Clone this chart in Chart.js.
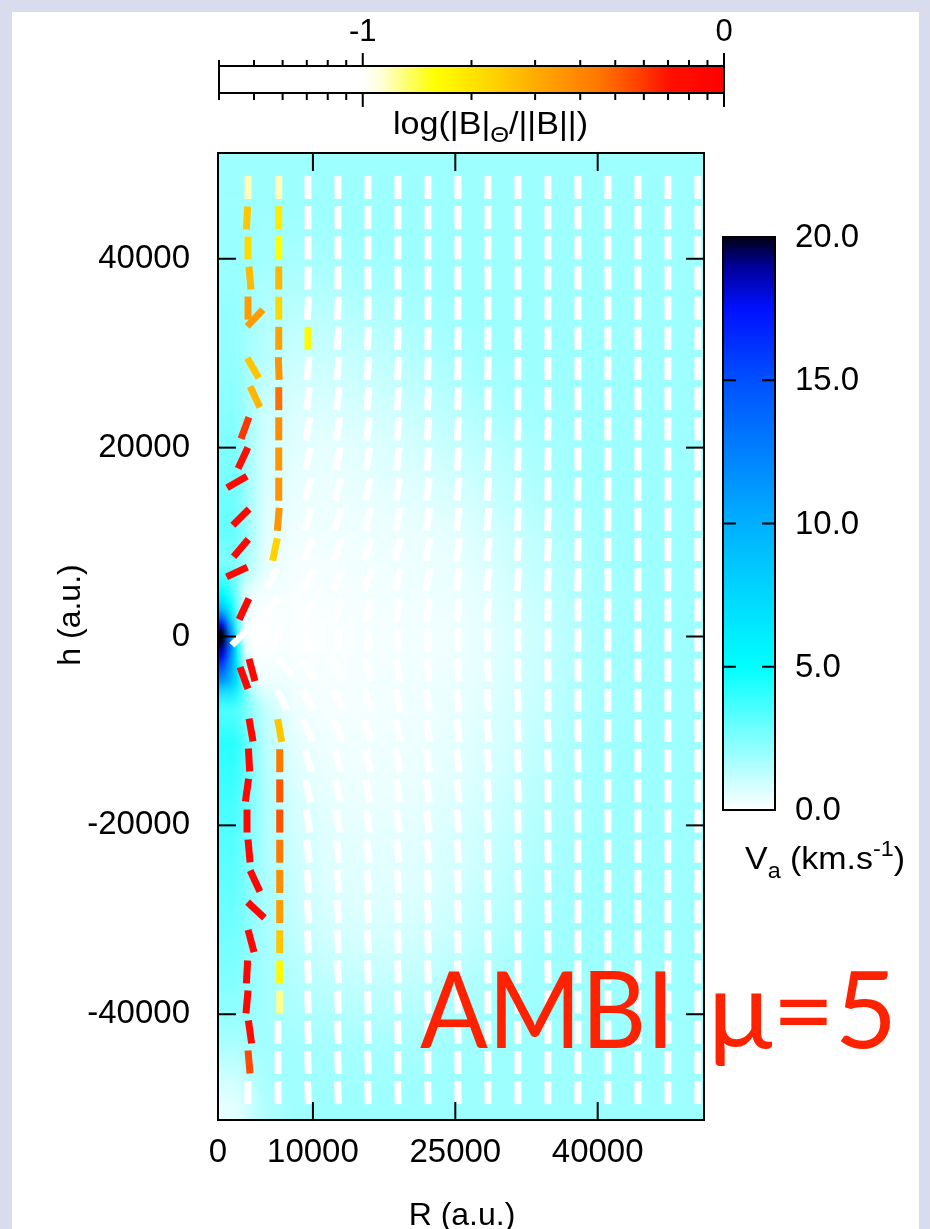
<!DOCTYPE html>
<html>
<head>
<meta charset="utf-8">
<title>AMBI mu=5</title>
<script src="https://cdn.jsdelivr.net/npm/chart.js@4.4.1/dist/chart.umd.min.js"></script>
<style>
  html, body { margin:0; padding:0; width:930px; height:1229px; overflow:hidden; background:#d9dcec; }
  #panel { position:absolute; left:12px; top:12px; width:907px; height:1217px; background:#ffffff; }
  canvas { position:absolute; left:0; top:0; }
</style>
</head>
<body>
<div id="panel"></div>
<canvas id="main" width="930" height="1229"></canvas>
<canvas id="cbTop" width="930" height="1229"></canvas>
<canvas id="cbRight" width="930" height="1229"></canvas>
<script>
// ================= DATA =================
const xTicks = [0, 10000, 25000, 40000];
const yTicks = [-40000, -20000, 0, 20000, 40000];
const xRange = [0, 51200];
const yRange = [-51200, 51200];

// top colour bar: |B|_theta/||B|| on log axis
const ratioRange = [0.04, 1];
const ratioMajor = [0.1, 1];
const ratioMinor = [0.04, 0.05, 0.06, 0.07, 0.08, 0.09, 0.2, 0.3, 0.4, 0.5, 0.6, 0.7, 0.8, 0.9];

// right colour bar: Va (km/s)
const vaRange = [0, 20];
const vaTicks = [0, 5, 10, 15, 20];

// field-line dash grid (centres)
const gridR = [3160, 6320, 9480, 12640, 15800, 18960, 22120, 25280, 28440, 31600, 34760, 37920, 41080, 44240, 47400, 50560];
const gridH = [47550, 44355, 41160, 37965, 34770, 31575, 28380, 25185, 21990, 18795, 15600, 12405, 9210, 6015, 2820, -375,
               -3570, -6765, -9960, -13155, -16350, -19545, -22740, -25935, -29130, -32325, -35520, -38715, -41910, -45105, -48300];
const N = null;
// tilt (deg, + = top leaning right) of the white dashes; null = no white dash there
const whiteTilt = [
 [N,N,0,0,0,0,0,0,0,0,0,0,0,0,0,0],
 [N,N,0,0,0,0,0,0,0,0,0,0,0,0,0,0],
 [N,N,0,0,0,0,0,0,0,0,0,0,0,0,0,0],
 [N,N,1,0,0,0,0,0,0,0,0,0,0,0,0,0],
 [N,N,3,2,1,1,0,0,0,0,0,0,0,0,0,0],
 [N,N,N,4,3,2,1,1,0,0,0,0,0,0,0,0],
 [N,N,5,5,4,3,2,1,1,0,0,0,0,0,0,0],
 [N,N,7,6,5,4,3,2,1,1,0,0,0,0,0,0],
 [N,N,9,8,7,6,4,3,2,1,1,0,0,0,0,0],
 [N,N,12,10,9,7,5,4,3,2,1,0,0,0,0,0],
 [N,N,15,13,11,9,7,5,4,3,1,1,0,0,0,0],
 [N,N,18,17,14,11,9,7,5,3,2,1,0,0,0,0],
 [N,N,22,20,17,14,11,8,6,4,2,1,0,0,0,0],
 [N,N,25,22,18,14,11,8,6,4,2,1,0,0,0,0],
 [N,N,25,18,13,9,7,5,3,2,1,0,0,0,0,0],
 [N,N,5,2,1,0,0,0,0,0,0,0,0,0,0,0],
 [N,N,-32,-22,-15,-10,-7,-5,-3,-2,-1,0,0,0,0,0],
 [N,N,-28,-22,-16,-12,-9,-6,-4,-3,-1,0,0,0,0,0],
 [N,N,-22,-19,-15,-12,-9,-7,-5,-3,-2,-1,0,0,0,0],
 [N,N,-16,-15,-13,-11,-9,-7,-5,-3,-2,-1,0,0,0,0],
 [N,N,-12,-12,-11,-9,-8,-6,-4,-3,-1,-1,0,0,0,0],
 [N,N,-9,-9,-9,-8,-7,-5,-4,-2,-1,-1,0,0,0,0],
 [N,N,-7,-7,-7,-6,-5,-4,-3,-2,-1,0,0,0,0,0],
 [N,N,-5,-5,-5,-5,-4,-3,-2,-2,-1,0,0,0,0,0],
 [N,N,-4,-4,-4,-4,-3,-3,-2,-1,-1,0,0,0,0,0],
 [N,N,-3,-3,-3,-3,-3,-2,-2,-1,-1,0,0,0,0,0],
 [N,N,-3,-3,-3,-2,-2,-2,-1,-1,-1,0,0,0,0,0],
 [N,N,-2,-2,-2,-2,-2,-1,-1,-1,0,0,0,0,0,0],
 [N,0,-2,-2,-2,-2,-1,-1,-1,-1,0,0,0,0,0,0],
 [N,0,-2,-2,-2,-1,-1,-1,-1,0,0,0,0,0,0,0],
 [0,0,-2,-2,-1,-1,-1,-1,0,0,0,0,0,0,0,0]
];
// white dashes off the grid near the origin
const extraWhiteR    = [2320, 5690, 5580, 6200, 7060, 6740];
const extraWhiteH    = [-50, 6200, 3120, -370, -3230, -6720];
const extraWhiteTilt = [45, 30, 40, 20, -45, -25];

// coloured dashes (strong B_theta): centre, tilt, log10(|B|_theta/||B||)
const colR = [3160,3055,3160,3370,3160,3900,3690,3900,2840,2630,2000,2420,2420,2000,2740,3580,2740,3480,3270,3055,3055,3270,3900,4000,3480,3055,3055,3370,3270,
              6400,6400,6400,6400,6400,6400,6400,6400,6400,6400,6400,6350,6000,
              6500,6500,6500,6500,6500,6500,6500,6500,6500,6500,
              9480];
const colH = [47550,44320,41140,37960,34780,33720,28430,25370,22080,18900,16360,12650,9370,6830,2910,-3550,-4390,-9900,-13080,-16260,-19540,-22710,-25890,-28960,-32250,-35520,-38700,-41880,-45060,
              47550,44355,41160,37965,34770,31575,28380,25185,21990,18795,15600,12405,9210,
              -9960,-13155,-16350,-19545,-22740,-25935,-29130,-32325,-35520,-38715,
              31575];
const colTilt = [0,3,0,-5,0,43,-30,-25,20,25,60,45,40,65,25,-15,-20,-10,-3,8,0,-5,-25,-47,-15,3,5,-8,-5,
                 0,0,0,0,0,0,-2,0,0,0,0,5,12,
                 -10,0,0,0,0,0,0,0,0,0,
                 0];
const colLog = [-0.93,-0.6,-0.66,-0.56,-0.47,-0.47,-0.6,-0.55,-0.22,-0.12,-0.08,-0.06,-0.06,-0.06,-0.06,-0.06,-0.06,-0.06,-0.06,-0.06,-0.06,-0.06,-0.06,-0.06,-0.06,-0.06,-0.06,-0.08,-0.25,
                -0.93,-0.72,-0.80,-0.55,-0.65,-0.48,-0.44,-0.33,-0.42,-0.45,-0.45,-0.45,-0.64,
                -0.60,-0.35,-0.28,-0.27,-0.35,-0.42,-0.47,-0.6,-0.78,-0.9,
                -0.78];

// Va map (km/s), coarse grid: cell centres
const heatR = [1600,4800,8000,11200,14400,17600,20800,24000,27200,30400,33600,36800,40000,43200,46400,49600];
const heatH = [49600,46400,43200,40000,36800,33600,30400,27200,24000,20800,17600,14400,11200,8000,4800,1600,
               -1600,-4800,-8000,-11200,-14400,-17600,-20800,-24000,-27200,-30400,-33600,-36800,-40000,-43200,-46400,-49600];
const heatVa = [
 [1.9,1.9,1.9,1.9,1.9,1.9,1.9,1.9,1.9,1.9,1.9,1.9,1.9,1.9,1.9,1.9],
 [1.9,1.9,1.9,1.9,1.9,1.9,1.9,1.9,1.9,1.9,1.9,1.9,1.9,1.9,1.9,1.9],
 [1.95,1.85,1.85,1.85,1.9,1.9,1.9,1.9,1.9,1.9,1.9,1.9,1.9,1.9,1.9,1.9],
 [2.0,1.8,1.7,1.7,1.8,1.85,1.9,1.9,1.9,1.9,1.9,1.9,1.9,1.9,1.9,1.9],
 [2.0,1.6,1.5,1.5,1.6,1.7,1.8,1.9,1.9,1.9,1.9,1.9,1.9,1.9,1.9,1.9],
 [2.1,1.5,1.3,1.3,1.4,1.5,1.7,1.8,1.9,1.9,1.9,1.9,1.9,1.9,1.9,1.9],
 [2.1,1.4,1.1,1.1,1.2,1.3,1.5,1.7,1.8,1.9,1.9,1.9,1.9,1.9,1.9,1.9],
 [2.2,1.2,0.9,0.9,1.0,1.1,1.3,1.5,1.7,1.8,1.9,1.9,1.9,1.9,1.9,1.9],
 [2.3,1.0,0.7,0.7,0.8,0.9,1.1,1.3,1.5,1.7,1.8,1.9,1.9,1.9,1.9,1.9],
 [2.5,0.9,0.6,0.5,0.6,0.7,0.9,1.1,1.3,1.5,1.7,1.8,1.9,1.9,1.9,1.9],
 [2.6,0.8,0.5,0.4,0.5,0.6,0.7,0.9,1.1,1.3,1.6,1.8,1.9,1.9,1.9,1.9],
 [2.8,0.7,0.4,0.35,0.4,0.45,0.55,0.7,0.9,1.2,1.5,1.7,1.85,1.9,1.9,1.9],
 [3.0,0.6,0.3,0.3,0.3,0.35,0.4,0.5,0.7,1.0,1.3,1.6,1.8,1.9,1.9,1.9],
 [2.5,0.5,0.2,0.2,0.25,0.3,0.35,0.4,0.6,0.9,1.2,1.5,1.75,1.9,1.9,1.9],
 [3.0,0.4,0.1,0.15,0.2,0.25,0.3,0.35,0.5,0.8,1.1,1.45,1.7,1.85,1.9,1.9],
 [4.0,0.3,0.05,0.1,0.15,0.2,0.25,0.3,0.45,0.7,1.0,1.4,1.7,1.85,1.9,1.9],
 [4.0,0.4,0.1,0.1,0.15,0.2,0.25,0.3,0.45,0.7,1.0,1.4,1.7,1.85,1.9,1.9],
 [3.5,0.9,0.2,0.15,0.2,0.25,0.3,0.35,0.5,0.75,1.05,1.45,1.7,1.85,1.9,1.9],
 [3.5,1.2,0.35,0.2,0.2,0.25,0.3,0.4,0.55,0.8,1.1,1.5,1.75,1.85,1.9,1.9],
 [4.2,1.4,0.5,0.3,0.25,0.3,0.35,0.45,0.6,0.85,1.2,1.55,1.8,1.9,1.9,1.9],
 [3.9,1.5,0.65,0.4,0.3,0.35,0.4,0.5,0.7,0.95,1.3,1.6,1.8,1.9,1.9,1.9],
 [3.6,1.6,0.8,0.5,0.4,0.4,0.45,0.6,0.8,1.05,1.4,1.65,1.85,1.9,1.9,1.9],
 [3.4,1.6,0.9,0.6,0.5,0.5,0.55,0.7,0.9,1.15,1.5,1.7,1.9,1.9,1.9,1.9],
 [3.2,1.6,1.0,0.65,0.55,0.55,0.6,0.75,0.95,1.25,1.55,1.75,1.9,1.9,1.9,1.9],
 [3.0,1.7,1.1,0.7,0.6,0.6,0.65,0.85,1.1,1.35,1.65,1.8,1.9,1.9,1.9,1.9],
 [2.8,1.7,1.2,0.85,0.75,0.75,0.8,0.95,1.2,1.45,1.7,1.85,1.9,1.9,1.9,1.9],
 [2.6,1.75,1.35,1.05,0.95,0.95,1.0,1.15,1.35,1.6,1.8,1.9,1.9,1.9,1.9,1.9],
 [2.4,1.8,1.5,1.3,1.2,1.2,1.25,1.4,1.55,1.75,1.85,1.9,1.9,1.9,1.9,1.9],
 [2.1,1.8,1.65,1.55,1.45,1.45,1.5,1.6,1.7,1.85,1.9,1.9,1.9,1.9,1.9,1.9],
 [1.6,1.8,1.8,1.75,1.7,1.7,1.7,1.8,1.85,1.9,1.9,1.9,1.9,1.9,1.9,1.9],
 [1.0,1.7,1.85,1.85,1.85,1.85,1.85,1.9,1.9,1.9,1.9,1.9,1.9,1.9,1.9,1.9],
 [0.5,1.5,1.85,1.9,1.9,1.9,1.9,1.9,1.9,1.9,1.9,1.9,1.9,1.9,1.9,1.9]
];
// Va map, fine grid around the origin: cell centres
const coreR = [400,1200,2000,2800,3600,4400,5200,6000,6800,7600];
const coreH = [7600,6800,6000,5200,4400,3600,2800,2000,1200,400,-400,-1200,-2000,-2800,-3600,-4400,-5200,-6000,-6800,-7600];
const coreVa = [
 [3.8,3.2,2.2,1.2,0.8,0.6,0.5,0.4,0.35,0.3],
 [4.0,3.4,2.2,1.1,0.7,0.5,0.4,0.35,0.3,0.25],
 [4.3,3.6,2.2,1.0,0.6,0.4,0.35,0.3,0.25,0.2],
 [4.7,3.9,2.3,0.9,0.5,0.3,0.25,0.2,0.2,0.15],
 [5.5,4.3,2.5,0.8,0.4,0.25,0.2,0.15,0.15,0.1],
 [7.0,5.0,2.7,0.7,0.3,0.2,0.15,0.1,0.1,0.1],
 [10,6.5,3.0,0.6,0.2,0.1,0.1,0.05,0.05,0.05],
 [14,8.5,3.3,0.5,0.1,0.05,0.05,0,0,0.05],
 [18,11,3.6,0.4,0.05,0,0,0,0,0.05],
 [20,13,4.0,0.4,0,0,0,0,0,0.05],
 [20,14,4.5,0.5,0.05,0,0,0,0,0.05],
 [19,14,5.0,0.7,0.1,0.05,0,0,0,0.05],
 [18,13,5.5,1.0,0.2,0.1,0.05,0,0.05,0.05],
 [16,12,6.0,1.5,0.3,0.15,0.1,0.05,0.05,0.1],
 [14,11,6.5,2.0,0.5,0.2,0.15,0.1,0.1,0.1],
 [12,10,6.5,2.5,0.7,0.3,0.2,0.15,0.1,0.1],
 [10,9,6.5,3.0,1.0,0.5,0.3,0.2,0.15,0.15],
 [8.5,8,6.0,3.2,1.3,0.7,0.4,0.25,0.2,0.15],
 [7.0,7,5.5,3.4,1.6,0.9,0.6,0.35,0.25,0.2],
 [6.0,6,5.0,3.4,1.8,1.1,0.8,0.45,0.3,0.25]
];

// ================= STYLE =================
const FONT = "'Liberation Sans', Arial, Helvetica, sans-serif";
const ratioStops = [[-1.4,'#ffffff'],[-1.0,'#ffffff'],[-0.95,'#ffffd8'],[-0.8,'#ffff00'],[-0.65,'#ffd700'],[-0.5,'#ffa500'],[-0.35,'#ff7800'],[-0.25,'#ff4800'],[-0.15,'#ff1000'],[0,'#ff0000']];
const vaStops = [[0,'#ffffff'],[5,'#00ffff'],[10,'#00b0ff'],[15,'#0050ff'],[17.5,'#0010ff'],[19,'#000096'],[20,'#000014']];

function hexToRgb(h){ const n = parseInt(h.slice(1),16); return [(n>>16)&255,(n>>8)&255,n&255]; }
function interpStops(stops, v){
  if (v <= stops[0][0]) return hexToRgb(stops[0][1]);
  for (let i=1;i<stops.length;i++){
    if (v <= stops[i][0]){
      const v0=stops[i-1][0], v1=stops[i][0], a=hexToRgb(stops[i-1][1]), b=hexToRgb(stops[i][1]);
      const t=(v-v0)/(v1-v0);
      return a.map((x,k)=>Math.round(x+(b[k]-x)*t));
    }
  }
  return hexToRgb(stops[stops.length-1][1]);
}
const rgbStr = c => `rgb(${c[0]},${c[1]},${c[2]})`;
const ratioColor = v => rgbStr(interpStops(ratioStops, v));

function gridImage(vals, stops){
  const rows = vals.length, cols = vals[0].length;
  const c = document.createElement('canvas'); c.width = cols+2; c.height = rows+2;
  const g = c.getContext('2d'); const im = g.createImageData(cols+2, rows+2);
  for (let r=0;r<rows+2;r++) for (let q=0;q<cols+2;q++){
    const rr = Math.min(rows-1, Math.max(0,r-1)), qq = Math.min(cols-1, Math.max(0,q-1));
    const col = interpStops(stops, vals[rr][qq]);
    const i = (r*(cols+2)+q)*4;
    im.data[i]=col[0]; im.data[i+1]=col[1]; im.data[i+2]=col[2]; im.data[i+3]=255;
  }
  g.putImageData(im,0,0);
  return c;
}
function extent(arr){ const s = Math.abs(arr[1]-arr[0]); const lo = Math.min(arr[0],arr[arr.length-1]) - s/2, hi = Math.max(arr[0],arr[arr.length-1]) + s/2; return [lo,hi]; }

// ================= MAIN CHART =================
const whitePts = [];
gridH.forEach((h,k)=>gridR.forEach((R,j)=>{ const t = whiteTilt[k][j]; if (t!==null) whitePts.push({x:R, y:h, t:t, c:'#ffffff'}); }));
extraWhiteR.forEach((R,i)=>whitePts.push({x:R, y:extraWhiteH[i], t:extraWhiteTilt[i], c:'#ffffff'}));
const colPts = colR.map((R,i)=>({x:R, y:colH[i], t:colTilt[i], c:ratioColor(colLog[i])}));

const heatPlugin = {
  id:'heat',
  beforeDatasetsDraw(chart){
    const {ctx, chartArea:a, scales:{x,y}} = chart;
    ctx.save();
    ctx.beginPath(); ctx.rect(a.left,a.top,a.width,a.height); ctx.clip();
    ctx.imageSmoothingEnabled = true; ctx.imageSmoothingQuality = 'low';
    const img = gridImage(heatVa, vaStops);
    const [r0,r1] = extent(heatR), [h0,h1] = extent(heatH);
    const px0 = x.getPixelForValue(r0), px1 = x.getPixelForValue(r1), py0 = y.getPixelForValue(h1), py1 = y.getPixelForValue(h0);
    ctx.drawImage(img, 1, 1, heatR.length, heatH.length, px0, py0, px1-px0, py1-py0);
    const cimg = gridImage(coreVa, vaStops);
    const [cr0,cr1] = extent(coreR), [ch0,ch1] = extent(coreH);
    const qx0 = x.getPixelForValue(cr0), qx1 = x.getPixelForValue(cr1), qy0 = y.getPixelForValue(ch1), qy1 = y.getPixelForValue(ch0);
    const cw = Math.max(1,Math.round(qx1-qx0)), chh = Math.max(1,Math.round(qy1-qy0));
    const tmp = document.createElement('canvas'); tmp.width = cw; tmp.height = chh;
    const t = tmp.getContext('2d'); t.imageSmoothingEnabled = true;
    t.drawImage(cimg, 1, 1, coreR.length, coreH.length, 0, 0, cw, chh);
    t.globalCompositeOperation = 'destination-in';
    let g = t.createLinearGradient(0,0,0,chh);
    g.addColorStop(0,'rgba(0,0,0,0)'); g.addColorStop(0.2,'rgba(0,0,0,1)'); g.addColorStop(0.8,'rgba(0,0,0,1)'); g.addColorStop(1,'rgba(0,0,0,0)');
    t.fillStyle = g; t.fillRect(0,0,cw,chh);
    g = t.createLinearGradient(0,0,cw,0);
    g.addColorStop(0,'rgba(0,0,0,1)'); g.addColorStop(0.6,'rgba(0,0,0,1)'); g.addColorStop(1,'rgba(0,0,0,0)');
    t.fillStyle = g; t.fillRect(0,0,cw,chh);
    ctx.drawImage(tmp, qx0, qy0);
    ctx.restore();
  }
};

const framePlugin = {
  id:'frame',
  afterDatasetsDraw(chart){
    const {ctx, chartArea:a, scales:{x,y}} = chart;
    ctx.save();
    ctx.strokeStyle = '#000'; ctx.lineWidth = 2;
    const line = (x0,y0,x1,y1)=>{ ctx.beginPath(); ctx.moveTo(x0,y0); ctx.lineTo(x1,y1); ctx.stroke(); };
    xTicks.forEach(v=>{ const p = x.getPixelForValue(v); if (p <= a.left+1 || p >= a.right-1) return; line(p,a.bottom,p,a.bottom-18); line(p,a.top,p,a.top+18); });
    yTicks.forEach(v=>{ const p = y.getPixelForValue(v); line(a.left,p,a.left+18,p); line(a.right,p,a.right-18,p); });
    ctx.strokeRect(a.left, a.top, a.width, a.height);
    ctx.restore();
  }
};

function fittedText(ctx, text, xL, xR, baseline){
  const m = ctx.measureText(text);
  const ink = m.actualBoundingBoxLeft + m.actualBoundingBoxRight;
  ctx.save();
  ctx.translate(xL, baseline);
  ctx.scale((xR-xL)/ink, 1);
  ctx.fillText(text, m.actualBoundingBoxLeft, 0);
  ctx.restore();
}

const textPlugin = {
  id:'texts',
  afterDraw(chart){
    const ctx = chart.ctx;
    ctx.save();
    ctx.fillStyle = '#000';
    ctx.font = `32px ${FONT}`;
    ctx.textAlign = 'center'; ctx.textBaseline = 'alphabetic';
    ctx.fillText('R (a.u.)', 462, 1225);
    ctx.save(); ctx.translate(80, 615); ctx.rotate(-Math.PI/2); ctx.fillText('h (a.u.)', 0, 0); ctx.restore();
    ctx.fillStyle = '#ff2200';
    ctx.textAlign = 'left';
    ctx.font = `107px Lato, 'Open Sans', 'DejaVu Sans', sans-serif`;
    fittedText(ctx, 'AMBI', 420, 666, 1048);
    fittedText(ctx, 'μ=5', 715, 890, 1048);
    ctx.restore();
  }
};

const dashDataset = (label, pts) => ({
  label, data: pts,
  pointStyle: 'line',
  pointRadius: 11.5, pointHoverRadius: 11.5,
  pointBorderWidth: 7, pointHoverBorderWidth: 7,
  pointBackgroundColor: 'rgba(0,0,0,0)',
  pointBorderColor: c => (c.raw ? c.raw.c : '#ffffff'),
  pointHoverBorderColor: c => (c.raw ? c.raw.c : '#ffffff'),
  pointRotation: c => (c.raw ? c.raw.t - 90 : -90),
  showLine: false
});

new Chart(document.getElementById('main'), {
  type: 'scatter',
  data: { datasets: [ dashDataset('field lines', whitePts), dashDataset('field lines, strong B_theta', colPts) ] },
  options: {
    responsive: false, animation: false, events: [],
    layout: { padding: { left: 0, top: 153, right: 226, bottom: 0 } },
    plugins: { legend: { display: false }, tooltip: { enabled: false } },
    scales: {
      x: {
        type: 'linear', min: xRange[0], max: xRange[1],
        afterBuildTicks: s => { s.ticks = xTicks.map(v => ({ value: v })); },
        afterFit: s => { s.height = 109; },
        grid: { display: false, drawTicks: false }, border: { display: false },
        ticks: { color: '#000', font: { family: FONT, size: 33 }, padding: 13, maxRotation: 0, minRotation: 0, autoSkip: false, callback: v => String(v) }
      },
      y: {
        type: 'linear', min: yRange[0], max: yRange[1],
        afterBuildTicks: s => { s.ticks = yTicks.map(v => ({ value: v })); },
        afterFit: s => { s.width = 218; },
        grid: { display: false, drawTicks: false }, border: { display: false },
        ticks: { color: '#000', font: { family: FONT, size: 33 }, padding: 28, autoSkip: false, callback: v => String(v) }
      }
    }
  },
  plugins: [heatPlugin, framePlugin, textPlugin]
});

// ================= TOP COLOUR BAR =================
const topDeco = {
  id:'topDeco',
  afterDatasetsDraw(chart){
    const {ctx, chartArea:a, scales:{x}} = chart;
    ctx.save();
    ctx.strokeStyle = '#000'; ctx.lineWidth = 2;
    const line = (x0,y0,x1,y1)=>{ ctx.beginPath(); ctx.moveTo(x0,y0); ctx.lineTo(x1,y1); ctx.stroke(); };
    ctx.strokeRect(a.left, a.top, a.width, a.height);
    ratioMinor.forEach(v=>{ const p = x.getPixelForValue(v); line(p,a.top,p,a.top-6); line(p,a.bottom,p,a.bottom+7); });
    ratioMajor.forEach(v=>{ const p = x.getPixelForValue(v); line(p,a.top,p,a.top-13); line(p,a.bottom,p,a.bottom+14); });
    ctx.fillStyle = '#000';
    ctx.font = `31px ${FONT}`; ctx.textAlign = 'center'; ctx.textBaseline = 'alphabetic';
    ratioMajor.forEach(v=>{ const p = x.getPixelForValue(v); ctx.fillText(String(Math.round(Math.log10(v))), p, 41); });
    // title  log(|B|_Θ/||B||), spanning x 393..588
    const big = `31px ${FONT}`, small = `22px ${FONT}`;
    const parts = [['log(|B|', big, 0], ['Θ', small, 8], ['/||B||)', big, 0]];
    let w = 0; parts.forEach(p=>{ ctx.font = p[1]; w += ctx.measureText(p[0]).width; });
    const sc = 195 / w;
    ctx.save(); ctx.translate(393, 134); ctx.scale(sc, 1);
    let xx = 0; ctx.textAlign = 'left';
    parts.forEach(p=>{ ctx.font = p[1]; ctx.fillText(p[0], xx, p[2]); xx += ctx.measureText(p[0]).width; });
    ctx.restore();
    ctx.restore();
  }
};
new Chart(document.getElementById('cbTop'), {
  type: 'bar',
  data: { labels: ['ratio'], datasets: [{
    data: [ratioRange],
    backgroundColor: c => {
      const ch = c.chart; if (!ch.chartArea) return '#ffffff';
      const sx = ch.scales.x, p0 = sx.getPixelForValue(ratioRange[0]), p1 = sx.getPixelForValue(ratioRange[1]);
      const g = ch.ctx.createLinearGradient(p0,0,p1,0);
      ratioStops.forEach(s=>{ const p = sx.getPixelForValue(Math.pow(10,s[0])); g.addColorStop(Math.min(1,Math.max(0,(p-p0)/(p1-p0))), s[1]); });
      return g;
    },
    borderWidth: 0, barPercentage: 1, categoryPercentage: 1
  }]},
  options: {
    indexAxis: 'y', responsive: false, animation: false, events: [],
    layout: { padding: { left: 219, right: 206, top: 66, bottom: 1229-93 } },
    plugins: { legend: { display: false }, tooltip: { enabled: false } },
    scales: { x: { type: 'logarithmic', min: ratioRange[0], max: ratioRange[1], display: false }, y: { display: false } }
  },
  plugins: [topDeco]
});

// ================= RIGHT COLOUR BAR =================
const rightDeco = {
  id:'rightDeco',
  afterDatasetsDraw(chart){
    const {ctx, chartArea:a, scales:{y}} = chart;
    ctx.save();
    ctx.strokeStyle = '#000'; ctx.lineWidth = 2;
    const line = (x0,y0,x1,y1)=>{ ctx.beginPath(); ctx.moveTo(x0,y0); ctx.lineTo(x1,y1); ctx.stroke(); };
    vaTicks.forEach(v=>{ if (v===vaRange[0] || v===vaRange[1]) return; const p = y.getPixelForValue(v); line(a.left,p,a.left+13,p); line(a.right,p,a.right-13,p); });
    ctx.strokeRect(a.left, a.top, a.width, a.height);
    ctx.fillStyle = '#000';
    ctx.font = `33px ${FONT}`; ctx.textAlign = 'left'; ctx.textBaseline = 'middle';
    vaTicks.forEach(v=>{ ctx.fillText(v.toFixed(1), 795, y.getPixelForValue(v) + 1); });
    ctx.textBaseline = 'alphabetic';
    const big = `32px ${FONT}`, small = `22px ${FONT}`;
    const parts = [['V', big, 0], ['a', small, 9], [' (km.s', big, 0], ['-1', small, -13], [')', big, 0]];
    let w = 0; parts.forEach(p=>{ ctx.font = p[1]; w += ctx.measureText(p[0]).width; });
    ctx.save(); ctx.translate(745, 869); ctx.scale(160 / w, 1);
    let xx = 0;
    parts.forEach(p=>{ ctx.font = p[1]; ctx.fillText(p[0], xx, p[2]); xx += ctx.measureText(p[0]).width; });
    ctx.restore();
    ctx.restore();
  }
};
new Chart(document.getElementById('cbRight'), {
  type: 'bar',
  data: { labels: ['Va'], datasets: [{
    data: [vaRange],
    backgroundColor: c => {
      const ch = c.chart; if (!ch.chartArea) return '#00ffff';
      const sy = ch.scales.y, p0 = sy.getPixelForValue(vaRange[0]), p1 = sy.getPixelForValue(vaRange[1]);
      const g = ch.ctx.createLinearGradient(0,p0,0,p1);
      vaStops.forEach(s=>{ const p = sy.getPixelForValue(s[0]); g.addColorStop(Math.min(1,Math.max(0,(p-p0)/(p1-p0))), s[1]); });
      return g;
    },
    borderWidth: 0, barPercentage: 1, categoryPercentage: 1
  }]},
  options: {
    responsive: false, animation: false, events: [],
    layout: { padding: { left: 723, right: 930-775, top: 237, bottom: 1229-810 } },
    plugins: { legend: { display: false }, tooltip: { enabled: false } },
    scales: { x: { display: false }, y: { min: vaRange[0], max: vaRange[1], display: false } }
  },
  plugins: [rightDeco]
});
</script>
</body>
</html>
